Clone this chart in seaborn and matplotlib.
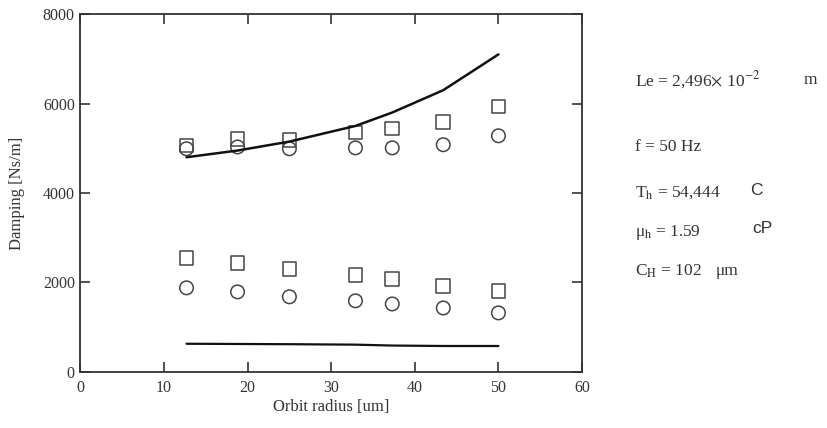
import numpy as np
import pandas as pd
import matplotlib
matplotlib.use('Agg')
import matplotlib.pyplot as plt
import seaborn as sns

# datos
radio = [12.7, 18.8, 25.0, 32.9, 37.3, 43.4, 50.0]
cuad_sup = [5060, 5210, 5190, 5350, 5440, 5590, 5930]
circ_sup = [4990, 5030, 4990, 5010, 5010, 5080, 5280]
linea_sup = [4800, 4950, 5150, 5500, 5800, 6300, 7100]
cuad_inf = [2550, 2440, 2300, 2170, 2080, 1920, 1810]
circ_inf = [1880, 1790, 1680, 1590, 1520, 1430, 1320]
linea_inf = [630, 625, 620, 610, 590, 580, 580]

x_ticks = [0, 10, 20, 30, 40, 50, 60]
y_ticks = [0, 2000, 4000, 6000, 8000]

df = pd.DataFrame({'radio': radio, 'cuad_sup': cuad_sup, 'circ_sup': circ_sup,
                   'linea_sup': linea_sup, 'cuad_inf': cuad_inf,
                   'circ_inf': circ_inf, 'linea_inf': linea_inf})

sns.set_style('ticks')
plt.rcParams['font.family'] = ['Liberation Serif', 'DejaVu Serif']
plt.rcParams['mathtext.fontset'] = 'stix'

fig = plt.figure(figsize=(8.28, 4.28), dpi=100)
ax = fig.add_axes([0.097, 0.131, 0.606, 0.836])

sns.lineplot(data=df, x='radio', y='linea_sup', color='#111111', lw=1.8, ax=ax)
sns.lineplot(data=df, x='radio', y='linea_inf', color='#111111', lw=1.6, ax=ax)
for col, mk in [('cuad_sup', 's'), ('cuad_inf', 's'), ('circ_sup', 'o'), ('circ_inf', 'o')]:
    sns.scatterplot(data=df, x='radio', y=col, marker=mk, s=95, facecolors='none',
                    edgecolor='#444444', linewidth=1.1, ax=ax)

ax.set_xlim(0, 60)
ax.set_ylim(0, 8000)
ax.set_xticks(x_ticks)
ax.set_yticks(y_ticks)
ax.tick_params(direction='in', length=7, width=1.2, labelsize=11.5, colors='#333333',
               top=True, right=True, labeltop=False, labelright=False)
ax.tick_params(axis='x', pad=6)
ax.tick_params(axis='y', pad=4)
for s in ax.spines.values():
    s.set_linewidth(1.3)
    s.set_color('#333333')
ax.set_xlabel('Orbit radius [um]', fontsize=12, color='#333333', labelpad=2)
ax.set_ylabel('Damping [Ns/m]', fontsize=12, color='#333333', labelpad=13)

tc = '#333333'
fs = 12.5
x0 = 0.767
fig.text(x0, 0.813, r'Le = 2,496$\times$ 10$^{-2}$', fontsize=fs, color=tc, va='center')
fig.text(0.970, 0.813, 'm', fontsize=fs, color=tc, va='center')
fig.text(x0, 0.657, 'f = 50 Hz', fontsize=fs, color=tc, va='center')
fig.text(x0, 0.549, r'T$_{\mathrm{h}}$ = 54,444', fontsize=fs, color=tc, va='center')
fig.text(0.906, 0.556, 'C', fontsize=fs, color=tc, family='Liberation Sans', va='center')
fig.text(x0, 0.456, r'μ$_{\mathrm{h}}$ = 1.59', fontsize=fs, color=tc, va='center')
fig.text(0.909, 0.466, 'cP', fontsize=fs, color=tc, family='Liberation Sans', va='center')
fig.text(x0, 0.367, r'C$_{\mathrm{H}}$ = 102', fontsize=fs, color=tc, va='center')
fig.text(0.864, 0.367, 'μm', fontsize=fs, color=tc, va='center')

fig.savefig('out.png', dpi=100, facecolor='white')
